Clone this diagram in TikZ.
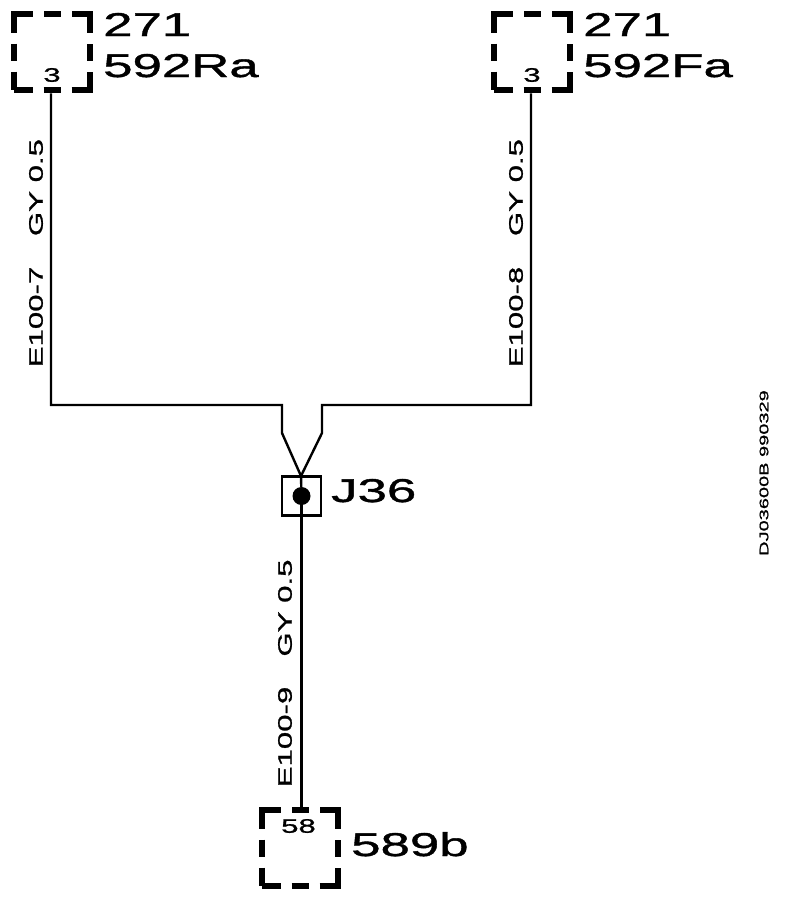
\documentclass[tikz,border=0pt]{standalone}
\usepackage{fontspec}
\setmainfont[FakeStretch=1.6,FakeBold=1.2]{Liberation Sans}
\usetikzlibrary{calc}

\tikzset{
    connbox/.style={draw=black, line width=6pt, minimum size=76.5pt, inner sep=0pt,
        dash pattern=on 37.5pt off 11pt on 17pt off 11pt, dash phase=18.75pt},
    wire/.style={draw=black, line width=2.4pt},
    bigtxt/.style={inner sep=0pt, anchor=base west, font=\fontsize{33}{33}\selectfont},
    wiretxt/.style={inner sep=0pt, rotate=90, font=\fontsize{19.5}{19.5}\selectfont},
    pintxt/.style={inner sep=0pt, font=\fontsize{19.5}{19.5}\selectfont},
}

\begin{document}
\begin{tikzpicture}[x=1pt, y=-1pt]
    \useasboundingbox (0,0) rectangle (800,898);

    % Define points where the wires bend
    \coordinate (cLa) at (51,405);
    \coordinate (cLb) at (282,405);
    \coordinate (cLc) at (282,433);
    \coordinate (cRa) at (531,405);
    \coordinate (cRb) at (322,405);
    \coordinate (cRc) at (322,433);
    \coordinate (cJ) at (301,476);

    % Dashed connector boxes
    \node[connbox] (boxRa) at (52,52) {};
    \node[connbox] (boxFa) at (532,52) {};
    \node[connbox] (boxB) at (300,848) {};

    % Splice box and its dot
    \node[draw=black, line width=2.8pt, minimum size=39pt, inner sep=0pt] (spliceJ) at (301.5,496) {};
    \node[circle, fill=black, minimum size=18pt, inner sep=0pt] (dotJ) at (301.5,496) {};

    % Draw the wires
    \draw[wire] (boxRa.south -| cLa) -- (cLa) -- (cLb) -- (cLc) -- (cJ);
    \draw[wire] (boxFa.south -| cRa) -- (cRa) -- (cRb) -- (cRc) -- (cJ);
    \draw[wire] (cJ) -- (dotJ);
    \draw[wire, line width=3pt] (dotJ) -- (boxB.north -| dotJ);

    % Pin numbers
    \node[pintxt] (pinRa) at (52,75) {3};
    \node[pintxt] (pinFa) at (532,75) {3};
    \node[pintxt] (pinB) at (298.5,826) {58};

    % Box names
    \node[bigtxt] (numRa) at (103,36) {271};
    \node[bigtxt] (nameRa) at (103,77) {592Ra};
    \node[bigtxt] (numFa) at (583,36) {271};
    \node[bigtxt] (nameFa) at (583,77) {592Fa};
    \node[bigtxt] (nameJ) at (331,502) {J36};
    \node[bigtxt] (nameB) at (351,856) {589b};

    % Wire labels, turned to run along the wire
    \node[wiretxt] (gyL) at (36,187.5) {GY 0.5};
    \node[wiretxt] (idL) at (36,317) {E100-7};
    \node[wiretxt] (gyR) at (516,187.5) {GY 0.5};
    \node[wiretxt] (idR) at (516,317) {E100-8};
    \node[wiretxt] (gyB) at (285,608) {GY 0.5};
    \node[wiretxt] (idB) at (285,737) {E100-9};

    % Drawing number
    \node[inner sep=0pt, rotate=90, font=\fontsize{12.5}{12.5}\selectfont] (drawno) at (764,473) {DJ03600B 990329};

\end{tikzpicture}
\end{document}
